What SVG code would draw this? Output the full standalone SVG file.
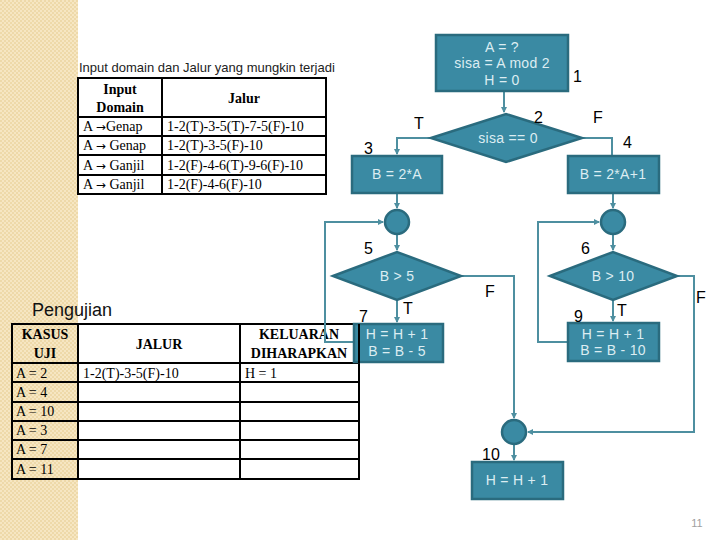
<svg xmlns="http://www.w3.org/2000/svg" width="720" height="540" viewBox="0 0 720 540">
<defs>
<pattern id="dots" width="4" height="4" patternUnits="userSpaceOnUse">
<rect width="4" height="4" fill="#f6e6c2"/>
<rect x="0" y="0" width="2" height="2" fill="#eed9a9"/>
<rect x="2" y="2" width="2" height="2" fill="#eed9a9"/>
</pattern>
<marker id="arr" markerWidth="6" markerHeight="6" refX="5" refY="3" orient="auto" markerUnits="userSpaceOnUse">
<path d="M0,0 L6,3 L0,6 z" fill="#4e8fa0"/>
</marker>
<style>
.box{fill:#3a8aa3;stroke:#2a6b7e;stroke-width:2.5}
.bt{font-family:"Liberation Sans",Arial,sans-serif;font-size:14px;fill:#dcedf2;text-anchor:middle;letter-spacing:0.3px}
.num{font-family:"Liberation Sans",Arial,sans-serif;font-size:16px;fill:#000}
.con{fill:none;stroke:#4e8fa0;stroke-width:2}
.tb{fill:none;stroke:#000;stroke-width:2}
.th{font-family:"Liberation Serif","Times New Roman",serif;font-size:14px;font-weight:bold;fill:#000;text-anchor:middle}
.td{font-family:"Liberation Serif","Times New Roman",serif;font-size:14px;fill:#000}
.ar{font-family:"DejaVu Sans",sans-serif;font-size:12px}
</style>
</defs>
<rect width="720" height="540" fill="#ffffff"/>
<rect x="0" y="0" width="78" height="540" fill="url(#dots)"/>

<g id="table-domain">
<text x="79" y="72" font-family="Liberation Sans,Arial,sans-serif" font-size="13" fill="#222">Input domain dan Jalur yang mungkin terjadi</text>
<rect class="tb" x="78" y="78" width="248" height="116"/>
<line class="tb" x1="162" y1="78" x2="162" y2="194"/>
<line class="tb" x1="78" y1="117" x2="326" y2="117"/>
<line class="tb" x1="78" y1="136" x2="326" y2="136"/>
<line class="tb" x1="78" y1="155" x2="326" y2="155"/>
<line class="tb" x1="78" y1="175" x2="326" y2="175"/>
<text class="th" x="120" y="94">Input</text>
<text class="th" x="120" y="112">Domain</text>
<text class="th" x="244" y="103">Jalur</text>
<text class="td" x="83" y="131">A <tspan class="ar">→</tspan>Genap</text>
<text class="td" x="83" y="150">A <tspan class="ar">→</tspan> Genap</text>
<text class="td" x="83" y="170">A <tspan class="ar">→</tspan> Ganjil</text>
<text class="td" x="83" y="189">A <tspan class="ar">→</tspan> Ganjil</text>
<text class="td" x="167" y="131">1-2(T)-3-5(T)-7-5(F)-10</text>
<text class="td" x="167" y="150">1-2(T)-3-5(F)-10</text>
<text class="td" x="167" y="170">1-2(F)-4-6(T)-9-6(F)-10</text>
<text class="td" x="167" y="189">1-2(F)-4-6(F)-10</text>
</g>

<g id="table-pengujian">
<text x="32" y="316" font-family="Liberation Sans,Arial,sans-serif" font-size="18" fill="#111">Pengujian</text>
<rect class="tb" x="12" y="324" width="347" height="155"/>
<line class="tb" x1="78" y1="324" x2="78" y2="479"/>
<line class="tb" x1="240" y1="324" x2="240" y2="479"/>
<line class="tb" x1="12" y1="363" x2="359" y2="363"/>
<line class="tb" x1="12" y1="382" x2="359" y2="382"/>
<line class="tb" x1="12" y1="402" x2="359" y2="402"/>
<line class="tb" x1="12" y1="421" x2="359" y2="421"/>
<line class="tb" x1="12" y1="440" x2="359" y2="440"/>
<line class="tb" x1="12" y1="459" x2="359" y2="459"/>
<text class="th" x="45" y="339">KASUS</text>
<text class="th" x="45" y="358">UJI</text>
<text class="th" x="159" y="349">JALUR</text>
<text class="th" x="299" y="339">KELUARAN</text>
<text class="th" x="299" y="358">DIHARAPKAN</text>
<text class="td" x="16" y="378">A = 2</text>
<text class="td" x="16" y="397">A = 4</text>
<text class="td" x="16" y="416">A = 10</text>
<text class="td" x="16" y="435">A = 3</text>
<text class="td" x="16" y="454">A = 7</text>
<text class="td" x="16" y="474">A = 11</text>
<text class="td" x="83" y="378">1-2(T)-3-5(F)-10</text>
<text class="td" x="245" y="378">H = 1</text>
</g>

<g id="connectors">
<path class="con" d="M504,92 V112" marker-end="url(#arr)"/>
<path class="con" d="M431,138 H397 V154" marker-end="url(#arr)"/>
<path class="con" d="M582,138 H612 V155"/>
<path class="con" d="M397,194 V208" marker-end="url(#arr)"/>
<path class="con" d="M613,194 V208" marker-end="url(#arr)"/>
<path class="con" d="M397,235 V250" marker-end="url(#arr)"/>
<path class="con" d="M613,235 V250" marker-end="url(#arr)"/>
<path class="con" d="M397,300 V322" marker-end="url(#arr)"/>
<path class="con" d="M613,300 V321" marker-end="url(#arr)"/>
<path class="con" d="M353,342 H325 V222 H383" marker-end="url(#arr)"/>
<path class="con" d="M567,342 H538 V222 H599" marker-end="url(#arr)"/>
<path class="con" d="M461,276 H514 V418" marker-end="url(#arr)"/>
<path class="con" d="M677,276 H694 V432 H528" marker-end="url(#arr)"/>
<path class="con" d="M514,445 V460" marker-end="url(#arr)"/>
</g>

<g id="n1">
<rect class="box" x="436" y="35" width="132" height="56"/>
<text class="bt" x="502" y="52">A = ?</text>
<text class="bt" x="502" y="68">sisa = A mod 2</text>
<text class="bt" x="502" y="85">H = 0</text>
<text class="num" x="573" y="82">1</text>
</g>
<g id="n2">
<polygon class="box" points="431,138 506,114 582,138 506,162"/>
<text class="bt" x="508" y="143">sisa == 0</text>
<text class="num" x="534" y="123">2</text>
<text class="num" x="414" y="129">T</text>
<text class="num" x="593" y="123">F</text>
</g>
<g id="n3">
<rect class="box" x="352" y="156" width="90" height="37"/>
<text class="bt" x="397" y="179">B = 2*A</text>
<text class="num" x="364" y="154">3</text>
</g>
<g id="n4">
<rect class="box" x="568" y="156" width="91" height="37"/>
<text class="bt" x="613" y="179">B = 2*A+1</text>
<text class="num" x="623" y="148">4</text>
</g>
<g id="j5">
<circle class="box" cx="397" cy="222" r="12"/>
</g>
<g id="j6">
<circle class="box" cx="613" cy="222" r="12"/>
</g>
<g id="n5">
<polygon class="box" points="333,276 397,252 461,276 397,300"/>
<text class="bt" x="397" y="281">B &gt; 5</text>
<text class="num" x="364" y="254">5</text>
<text class="num" x="403" y="314">T</text>
<text class="num" x="485" y="297">F</text>
</g>
<g id="n6">
<polygon class="box" points="550,276 613,252 677,276 613,300"/>
<text class="bt" x="613" y="281">B &gt; 10</text>
<text class="num" x="581" y="254">6</text>
<text class="num" x="617" y="316">T</text>
<text class="num" x="696" y="303">F</text>
</g>
<g id="n7">
<rect class="box" x="354" y="324" width="89" height="38"/>
<text class="bt" x="397" y="339">H = H + 1</text>
<text class="bt" x="397" y="356">B = B - 5</text>
<text class="num" x="359" y="322">7</text>
</g>
<g id="n9">
<rect class="box" x="568" y="323" width="91" height="38"/>
<text class="bt" x="613" y="339">H = H + 1</text>
<text class="bt" x="613" y="355">B = B - 10</text>
<text class="num" x="574" y="322">9</text>
</g>
<g id="j10">
<circle class="box" cx="514" cy="432" r="12"/>
</g>
<g id="n10">
<rect class="box" x="472" y="462" width="91" height="37"/>
<text class="bt" x="517" y="485">H = H + 1</text>
<text class="num" x="482" y="460">10</text>
</g>
<line x1="359" y1="324" x2="359" y2="363" stroke="#000" stroke-width="2"/>
<text x="697" y="527" font-family="Liberation Sans,Arial,sans-serif" font-size="11" fill="#a0a0a0" text-anchor="middle">11</text>
</svg>
